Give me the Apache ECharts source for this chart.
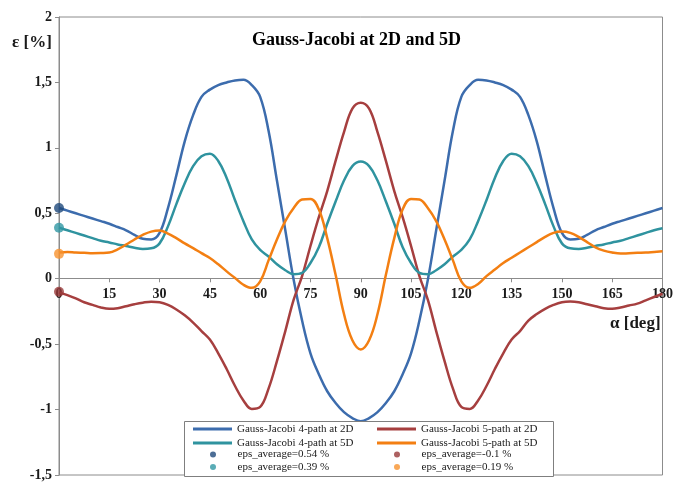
<!DOCTYPE html>
<html>
<head>
<meta charset="utf-8">
<script src="https://cdn.jsdelivr.net/npm/echarts@6/dist/echarts.min.js"></script>
<style>
  html, body { margin: 0; padding: 0; background: #fff; }
  #chart { width: 676px; height: 482px; }
</style>
</head>
<body>
<div id="chart"></div>
<script>
// Rotation angle α in degrees (every 2.5°)
const angles = [
  0, 2.5, 5, 7.5, 10, 12.5, 15, 17.5, 20, 22.5, 25, 27.5, 30, 32.5, 35, 37.5, 40, 42.5, 45,
  47.5, 50, 52.5, 55, 57.5, 60, 62.5, 65, 67.5, 70, 72.5, 75, 77.5, 80, 82.5, 85, 87.5, 90,
  92.5, 95, 97.5, 100, 102.5, 105, 107.5, 110, 112.5, 115, 117.5, 120, 122.5, 125, 127.5, 130,
  132.5, 135, 137.5, 140, 142.5, 145, 147.5, 150, 152.5, 155, 157.5, 160, 162.5, 165, 167.5,
  170, 172.5, 175, 177.5, 180
];

// Error ε [%] — Gauss-Jacobi 4-path at 2D
const gj4path2D = [
  0.54, 0.52, 0.50, 0.48, 0.46, 0.44, 0.42, 0.395, 0.37, 0.335, 0.305, 0.30, 0.35, 0.54, 0.79, 1.05, 1.25, 1.39, 1.445,
  1.48, 1.50, 1.515, 1.52, 1.48, 1.39, 1.13, 0.75, 0.37, -0.01, -0.32, -0.57, -0.73, -0.86, -0.95, -1.02, -1.065, -1.09,
  -1.065, -1.02, -0.95, -0.86, -0.73, -0.57, -0.32, -0.01, 0.37, 0.75, 1.13, 1.39, 1.48, 1.52, 1.515, 1.50,
  1.48, 1.445, 1.39, 1.25, 1.05, 0.79, 0.54, 0.35, 0.30, 0.305, 0.335, 0.37, 0.395, 0.42, 0.44,
  0.46, 0.48, 0.50, 0.52, 0.54
];

// Error ε [%] — Gauss-Jacobi 5-path at 2D
const gj5path2D = [
  -0.104, -0.125, -0.15, -0.18, -0.20, -0.22, -0.23, -0.225, -0.21, -0.195, -0.183, -0.176, -0.18, -0.20, -0.235, -0.28, -0.335, -0.40, -0.465,
  -0.57, -0.69, -0.82, -0.93, -0.995, -0.98, -0.84, -0.63, -0.40, -0.16, 0.02, 0.25, 0.47, 0.67, 0.90, 1.12, 1.30, 1.345,
  1.30, 1.12, 0.90, 0.67, 0.47, 0.25, 0.02, -0.16, -0.40, -0.63, -0.84, -0.98, -0.995, -0.93, -0.82, -0.69,
  -0.57, -0.465, -0.40, -0.32, -0.27, -0.23, -0.20, -0.18, -0.175, -0.18, -0.195, -0.21, -0.225, -0.23, -0.22,
  -0.205, -0.19, -0.165, -0.14, -0.115
];

// Error ε [%] — Gauss-Jacobi 4-path at 5D
const gj4path5D = [
  0.39, 0.37, 0.35, 0.33, 0.31, 0.29, 0.277, 0.262, 0.25, 0.237, 0.228, 0.232, 0.27, 0.40, 0.57, 0.73, 0.86, 0.935, 0.955,
  0.90, 0.77, 0.60, 0.44, 0.30, 0.22, 0.17, 0.11, 0.065, 0.035, 0.045, 0.12, 0.24, 0.42, 0.59, 0.75, 0.86, 0.895,
  0.86, 0.75, 0.59, 0.42, 0.24, 0.12, 0.045, 0.035, 0.065, 0.11, 0.17, 0.22, 0.30, 0.44, 0.60, 0.77,
  0.90, 0.955, 0.935, 0.86, 0.73, 0.57, 0.40, 0.27, 0.232, 0.228, 0.237, 0.25, 0.262, 0.277, 0.29,
  0.31, 0.33, 0.35, 0.37, 0.385
];

// Error ε [%] — Gauss-Jacobi 5-path at 5D
const gj5path5D = [
  0.20, 0.205, 0.20, 0.198, 0.195, 0.196, 0.20, 0.225, 0.26, 0.30, 0.335, 0.36, 0.368, 0.345, 0.31, 0.27, 0.234, 0.195, 0.158,
  0.11, 0.056, 0.005, -0.046, -0.07, -0.02, 0.14, 0.30, 0.44, 0.54, 0.605, 0.61, 0.53, 0.31, 0.03, -0.27, -0.47, -0.54,
  -0.47, -0.27, 0.03, 0.31, 0.53, 0.61, 0.605, 0.54, 0.44, 0.30, 0.14, -0.02, -0.07, -0.04, 0.02, 0.07,
  0.12, 0.16, 0.20, 0.24, 0.28, 0.32, 0.35, 0.36, 0.35, 0.32, 0.28, 0.24, 0.215, 0.20, 0.192,
  0.195, 0.198, 0.20, 0.205, 0.21
];

// Average errors, plotted at α = 0
const avgAngle = 0;
const avg4path2D = 0.54;
const avg5path2D = -0.1;
const avg4path5D = 0.39;
const avg5path5D = 0.19;

// Axis ticks
const xTicks = { min: 0, max: 180, step: 15 };
const yTicks = { min: -1.5, max: 2, step: 0.5 };

const SERIF = 'Liberation Serif, Times New Roman, serif';
const pairs = vals => angles.map((a, i) => [a, vals[i]]);

const names = {
  l42: 'Gauss-Jacobi 4-path at 2D',
  l52: 'Gauss-Jacobi 5-path at 2D',
  l45: 'Gauss-Jacobi 4-path at 5D',
  l55: 'Gauss-Jacobi 5-path at 5D',
  a42: 'eps_average=0.54 %',
  a52: 'eps_average=-0.1 %',
  a45: 'eps_average=0.39 %',
  a55: 'eps_average=0.19 %'
};

const colors = {
  l42: '#3c6cad', l52: '#a63f3f', l45: '#2f939f', l55: '#f37f12',
  a42: '#1f4a7c', a52: '#993a3a', a45: '#3197a4', a55: '#f7922e'
};

function lineSeries(key, vals) {
  return {
    name: names[key], type: 'line', data: pairs(vals), smooth: 0.4,
    symbol: 'none', color: colors[key],
    lineStyle: { width: 2.5, color: colors[key] }, z: 3
  };
}
function dotSeries(key, v) {
  return {
    name: names[key], type: 'scatter', data: [[avgAngle, v]], symbol: 'circle',
    symbolSize: 10, color: colors[key], itemStyle: { color: colors[key] }, z: 4
  };
}

// Plot box geometry (px)
const plotTop = 17, plotBottom = 6, chartH = 482;
const plotH = chartH - plotTop - plotBottom;
const zeroShift = plotH * (0 - yTicks.min) / (yTicks.max - yTicks.min);

const legendBase = {
  orient: 'horizontal', padding: 0, itemGap: 0, selectedMode: false, itemWidth: 39,
  textStyle: { fontFamily: SERIF, fontSize: 11, color: '#1a1a1a' }, z: 6
};
const lineRows = [425, 439];
const dotRows = [452, 464.5];
const lineColX = [193, 377];
const dotColX = [210, 394];
function legendLine(key, row, col) {
  const h = 3;
  return Object.assign({}, legendBase, {
    data: [{ name: names[key], icon: 'rect' }],
    left: lineColX[col], top: lineRows[row] - h / 2, itemHeight: h
  });
}
function legendDot(key, row, col) {
  const h = 6;
  return Object.assign({}, legendBase, {
    data: [{ name: names[key], icon: 'circle' }],
    left: dotColX[col], top: dotRows[row] - h / 2, itemHeight: h
  });
}

const chart = echarts.init(document.getElementById('chart'), null, { renderer: 'canvas' });
chart.setOption({
  animation: false,
  backgroundColor: '#ffffff',
  grid: {
    left: 59, right: 10, top: plotTop, bottom: plotBottom,
    show: true, borderColor: '#8c8c8c', borderWidth: 1, backgroundColor: 'transparent'
  },
  xAxis: {
    type: 'value', min: xTicks.min, max: xTicks.max, interval: xTicks.step,
    offset: -zeroShift,
    axisLine: { onZero: false, lineStyle: { color: '#8c8c8c', width: 1 } },
    axisTick: { show: true, inside: false, length: 4, lineStyle: { color: '#8c8c8c' } },
    axisLabel: { margin: 9, fontFamily: SERIF, fontWeight: 'bold', fontSize: 14, color: '#1a1a1a' },
    splitLine: { show: false }
  },
  yAxis: {
    type: 'value', min: yTicks.min, max: yTicks.max, interval: yTicks.step,
    axisLine: { show: true, onZero: false, lineStyle: { color: '#8c8c8c', width: 1 } },
    axisTick: { show: true, inside: false, length: 4, lineStyle: { color: '#8c8c8c' } },
    axisLabel: {
      margin: 7, fontFamily: SERIF, fontWeight: 'bold', fontSize: 14, color: '#1a1a1a',
      formatter: v => String(v).replace('.', ',')
    },
    splitLine: { show: false }
  },
  legend: [
    legendLine('l42', 0, 0), legendLine('l52', 0, 1),
    legendLine('l45', 1, 0), legendLine('l55', 1, 1),
    legendDot('a42', 0, 0), legendDot('a52', 0, 1),
    legendDot('a45', 1, 0), legendDot('a55', 1, 1)
  ],
  graphic: [
    {
      type: 'text', left: 252, top: 31, z: 10,
      style: { text: 'Gauss-Jacobi at 2D and 5D', font: 'bold 18px ' + SERIF, fill: '#000' }
    },
    {
      type: 'text', left: 12, top: 34, z: 10,
      style: { text: 'ε [%]', font: 'bold 17px ' + SERIF, fill: '#1a1a1a' }
    },
    {
      type: 'text', left: 610, top: 315, z: 10,
      style: { text: 'α [deg]', font: 'bold 17px ' + SERIF, fill: '#1a1a1a' }
    },
    {
      type: 'rect', z: 5,
      shape: { x: 184.5, y: 421.5, width: 369, height: 55 },
      style: { fill: '#ffffff', stroke: '#7f7f7f', lineWidth: 1 }
    }
  ],
  series: [
    lineSeries('l42', gj4path2D),
    lineSeries('l52', gj5path2D),
    lineSeries('l45', gj4path5D),
    lineSeries('l55', gj5path5D),
    dotSeries('a42', avg4path2D),
    dotSeries('a52', avg5path2D),
    dotSeries('a45', avg4path5D),
    dotSeries('a55', avg5path5D)
  ]
});
</script>
</body>
</html>
